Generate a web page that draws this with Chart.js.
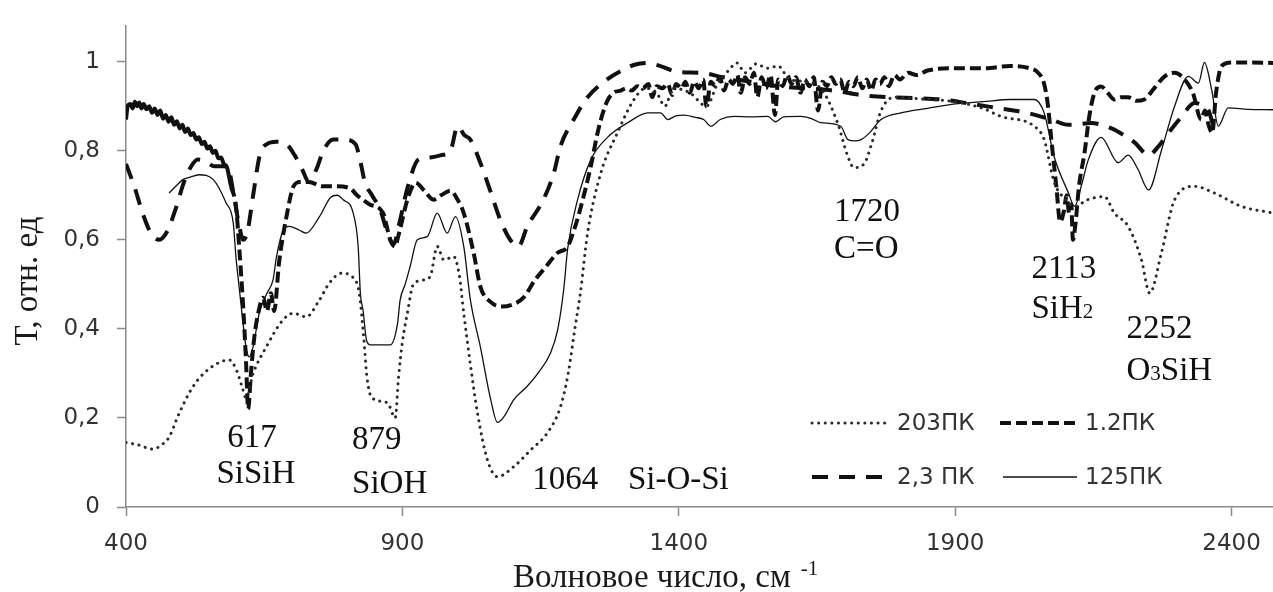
<!DOCTYPE html>
<html>
<head>
<meta charset="utf-8">
<script src="https://cdn.jsdelivr.net/npm/chart.js@4.4.1/dist/chart.umd.min.js"></script>
<style>
  html, body { margin: 0; padding: 0; background: #fff; }
  #wrap { width: 1273px; height: 592px; }
</style>
</head>
<body>
<div id="wrap"><canvas id="spectrum" width="1273" height="592"></canvas></div>
<script>
// wavenumber (cm-1), transmittance
const series203 = [
  [400,0.145],[420,0.14],[449,0.13],[465,0.14],[478,0.157],[496,0.21],[521,0.27],[550,0.31],[587,0.33],[599,0.31],
  [610,0.27],[617,0.245],[630,0.30],[654,0.36],[684,0.42],[703,0.435],[726,0.427],[750,0.465],[768,0.503],[790,0.525],
  [811,0.515],[822,0.48],[830,0.38],[836,0.29],[845,0.245],[873,0.234],[887,0.2],[893,0.29],[900,0.37],[909,0.435],
  [920,0.5],[940,0.51],[951,0.52],[963,0.585],[975,0.555],[993,0.562],[1003,0.52],[1011,0.435],[1023,0.32],[1036,0.21],
  [1054,0.105],[1072,0.068],[1101,0.09],[1132,0.128],[1162,0.166],[1186,0.225],[1200,0.3],[1212,0.4],[1222,0.48],[1235,0.615],
  [1259,0.75],[1289,0.84],[1319,0.915],[1340,0.94],[1360,0.93],[1375,0.9],[1390,0.94],[1420,0.93],[1450,0.9],[1470,0.95],
  [1490,0.98],[1505,0.997],[1520,0.975],[1540,0.995],[1560,0.985],[1580,0.99],[1600,0.96],[1630,0.955],[1660,0.935],[1688,0.86],
  [1705,0.79],[1717,0.762],[1735,0.77],[1750,0.82],[1766,0.89],[1790,0.92],[1850,0.915],[1900,0.91],[1950,0.895],[1983,0.877],
  [2043,0.855],[2061,0.825],[2079,0.73],[2100,0.69],[2116,0.675],[2140,0.69],[2170,0.697],[2188,0.66],[2213,0.63],[2237,0.555],
  [2252,0.48],[2273,0.57],[2297,0.69],[2333,0.72],[2369,0.705],[2418,0.675],[2475,0.66]
];

const series12 = [
  [400,0.87],[403,0.9],[408,0.905],[412,0.895],[416,0.91],[420,0.9],[424,0.908],[428,0.895],[432,0.905],[437,0.893],
  [442,0.9],[447,0.885],[452,0.895],[457,0.88],[462,0.89],[467,0.872],[472,0.88],[477,0.865],[482,0.875],[487,0.858],
  [492,0.866],[497,0.85],[502,0.858],[507,0.842],[512,0.85],[517,0.835],[522,0.84],[527,0.825],[532,0.83],[537,0.815],
  [542,0.82],[547,0.805],[552,0.81],[557,0.795],[562,0.8],[567,0.783],[572,0.785],[577,0.77],[582,0.765],[590,0.72],
  [599,0.675],[605,0.58],[612,0.45],[617,0.33],[621,0.22],[626,0.3],[632,0.38],[640,0.44],[648,0.47],[655,0.44],
  [662,0.48],[668,0.44],[677,0.55],[690,0.65],[703,0.72],[715,0.73],[731,0.73],[755,0.72],[780,0.72],[806,0.715],
  [818,0.70],[840,0.68],[865,0.66],[878,0.6],[886,0.585],[895,0.62],[909,0.69],[924,0.728],[940,0.71],[956,0.69],
  [970,0.70],[987,0.71],[1000,0.69],[1011,0.66],[1029,0.57],[1041,0.495],[1060,0.46],[1080,0.45],[1100,0.455],[1119,0.47],
  [1140,0.51],[1160,0.54],[1180,0.57],[1199,0.585],[1210,0.62],[1222,0.67],[1240,0.76],[1255,0.85],[1270,0.91],[1282,0.93],
  [1295,0.935],[1305,0.94],[1315,0.935],[1325,0.945],[1335,0.94],[1345,0.95],[1352,0.92],[1360,0.945],[1370,0.94],[1380,0.95],
  [1388,0.925],[1395,0.95],[1405,0.94],[1412,0.955],[1420,0.93],[1428,0.955],[1436,0.94],[1444,0.96],[1450,0.9],[1458,0.955],
  [1466,0.945],[1474,0.965],[1482,0.935],[1490,0.96],[1498,0.95],[1506,0.97],[1512,0.93],[1520,0.965],[1528,0.95],[1536,0.975],
  [1542,0.92],[1550,0.965],[1558,0.94],[1566,0.97],[1574,0.88],[1580,0.96],[1588,0.945],[1596,0.97],[1604,0.95],[1612,0.965],
  [1620,0.93],[1628,0.96],[1636,0.945],[1644,0.965],[1652,0.89],[1660,0.955],[1668,0.945],[1676,0.965],[1684,0.95],[1692,0.96],
  [1700,0.93],[1708,0.955],[1716,0.945],[1724,0.965],[1732,0.94],[1740,0.96],[1748,0.935],[1756,0.96],[1764,0.95],[1772,0.965],
  [1780,0.945],[1790,0.97],[1800,0.96],[1815,0.975],[1830,0.97],[1850,0.98],[1900,0.985],[1950,0.985],[2000,0.99],[2035,0.985],
  [2050,0.975],[2061,0.95],[2068,0.9],[2074,0.825],[2083,0.72],[2090,0.64],[2096,0.66],[2102,0.7],[2106,0.66],[2110,0.68],
  [2113,0.6],[2118,0.64],[2124,0.72],[2134,0.795],[2143,0.88],[2152,0.93],[2164,0.944],[2176,0.93],[2188,0.915],[2200,0.92],
  [2213,0.92],[2228,0.912],[2242,0.915],[2260,0.94],[2279,0.967],[2297,0.975],[2315,0.96],[2330,0.93],[2345,0.87],[2352,0.89],
  [2358,0.86],[2365,0.84],[2372,0.93],[2382,0.99],[2400,0.998],[2430,0.998],[2475,0.997]
];

const series23 = [
  [400,0.77],[415,0.72],[430,0.66],[445,0.615],[460,0.60],[475,0.62],[490,0.67],[505,0.73],[518,0.765],[530,0.78],
  [545,0.775],[560,0.765],[575,0.765],[585,0.76],[595,0.7],[605,0.63],[612,0.6],[620,0.62],[630,0.7],[642,0.79],
  [655,0.815],[672,0.82],[690,0.815],[705,0.79],[718,0.76],[731,0.73],[745,0.76],[757,0.8],[775,0.825],[795,0.825],
  [815,0.815],[825,0.77],[832,0.73],[845,0.70],[860,0.667],[872,0.62],[884,0.59],[895,0.64],[910,0.72],[929,0.78],
  [950,0.785],[970,0.79],[987,0.80],[1000,0.855],[1012,0.835],[1023,0.825],[1041,0.773],[1059,0.71],[1077,0.645],[1095,0.6],
  [1110,0.585],[1126,0.63],[1155,0.69],[1174,0.75],[1186,0.81],[1210,0.87],[1235,0.92],[1265,0.955],[1300,0.982],[1320,0.993],
  [1343,0.997],[1367,0.99],[1398,0.977],[1440,0.975],[1480,0.965],[1530,0.955],[1580,0.945],[1630,0.94],[1680,0.935],[1730,0.925],
  [1780,0.92],[1830,0.918],[1875,0.915],[1930,0.905],[1980,0.895],[2030,0.885],[2060,0.875],[2074,0.87],[2105,0.858],[2146,0.862],
  [2183,0.85],[2205,0.835],[2225,0.818],[2250,0.79],[2268,0.81],[2286,0.84],[2310,0.877],[2333,0.907],[2350,0.9],[2358,0.892],
  [2369,0.855],[2380,0.87]
];

const series125 = [
  [478,0.705],[490,0.72],[503,0.735],[515,0.74],[532,0.746],[558,0.735],[581,0.683],[594,0.638],[599,0.56],[605,0.49],
  [612,0.41],[617,0.36],[623,0.337],[630,0.36],[641,0.435],[655,0.48],[666,0.51],[672,0.56],[684,0.62],[695,0.63],
  [713,0.622],[726,0.615],[750,0.652],[770,0.695],[782,0.70],[793,0.69],[811,0.66],[820,0.585],[824,0.48],[829,0.44],
  [835,0.375],[842,0.364],[878,0.364],[891,0.41],[896,0.465],[905,0.5],[914,0.54],[927,0.6],[945,0.607],[963,0.66],
  [981,0.615],[996,0.652],[1011,0.585],[1023,0.465],[1041,0.36],[1060,0.24],[1072,0.19],[1085,0.205],[1101,0.24],[1125,0.27],
  [1145,0.30],[1168,0.346],[1181,0.398],[1192,0.49],[1199,0.58],[1217,0.69],[1241,0.78],[1271,0.83],[1308,0.863],[1344,0.885],
  [1367,0.885],[1380,0.87],[1395,0.878],[1409,0.88],[1430,0.875],[1445,0.87],[1458,0.855],[1475,0.87],[1500,0.877],[1530,0.876],
  [1561,0.877],[1575,0.865],[1590,0.876],[1621,0.877],[1640,0.872],[1657,0.863],[1693,0.855],[1706,0.825],[1718,0.822],[1730,0.825],
  [1745,0.84],[1766,0.87],[1802,0.885],[1850,0.895],[1900,0.905],[1950,0.91],[2000,0.915],[2043,0.915],[2061,0.885],[2079,0.787],
  [2105,0.705],[2116,0.675],[2128,0.72],[2141,0.78],[2164,0.83],[2195,0.773],[2213,0.79],[2230,0.76],[2250,0.712],[2273,0.80],
  [2297,0.90],[2322,0.967],[2340,0.952],[2351,0.998],[2364,0.937],[2376,0.855],[2394,0.896],[2430,0.893],[2475,0.892]
];

const xTicks = [400, 900, 1400, 1900, 2400];
const yTicks = [0, 0.2, 0.4, 0.6, 0.8, 1];
const yTickLabels = ['0', '0,2', '0,4', '0,6', '0,8', '1'];

const seriesNames = ['203ПК', '1.2ПК', '2,3 ПК', '125ПК'];

// band assignments written on the plot (x in cm-1, y in T units)
const peakNotes = [
  { x: 628, y: 0.135, align: 'center', parts: [['617']] },
  { x: 635, y: 0.054, align: 'center', parts: [['SiSiH']] },
  { x: 809, y: 0.130, align: 'left', parts: [['879']] },
  { x: 809, y: 0.031, align: 'left', parts: [['SiOH']] },
  { x: 1135, y: 0.040, align: 'left', parts: [['1064']] },
  { x: 1308, y: 0.040, align: 'left', parts: [['Si-O-Si']] },
  { x: 1681, y: 0.643, align: 'left', parts: [['1720']] },
  { x: 1681, y: 0.560, align: 'left', parts: [['C=O']] },
  { x: 2038, y: 0.515, align: 'left', parts: [['2113']] },
  { x: 2038, y: 0.425, align: 'left', parts: [['SiH'], ['2', 'sub']] },
  { x: 2210, y: 0.380, align: 'left', parts: [['2252']] },
  { x: 2210, y: 0.285, align: 'left', parts: [['O'], ['3', 'sub'], ['SiH']] }
];

const serif = '"Liberation Serif", "Times New Roman", serif';
const sans = '"DejaVu Sans", Verdana, sans-serif';

function toPoints(arr) {
  return arr.map(p => ({ x: p[0], y: p[1] }));
}

function drawRich(ctx, parts, x, y, align) {
  const big = '33px ' + serif, small = '21px ' + serif;
  let w = 0;
  parts.forEach(p => { ctx.font = p[1] ? small : big; w += ctx.measureText(p[0]).width; });
  let cx = align === 'center' ? x - w / 2 : x;
  ctx.textAlign = 'left';
  ctx.textBaseline = 'alphabetic';
  parts.forEach(p => {
    ctx.font = p[1] ? small : big;
    ctx.fillText(p[0], cx, y);
    cx += ctx.measureText(p[0]).width;
  });
}

const textPlugin = {
  id: 'textLayer',
  afterDraw(chart) {
    const { ctx, scales: { x, y } } = chart;
    ctx.save();
    ctx.fillStyle = '#111';
    peakNotes.forEach(n => {
      drawRich(ctx, n.parts, x.getPixelForValue(n.x), y.getPixelForValue(n.y), n.align);
    });

    // legend, 2 x 2 inside the plot
    const slots = [[812, 887, 897, 423], [1000, 1078, 1085, 423], [812, 890, 897, 477], [1003, 1077, 1085, 477]];
    chart.data.datasets.forEach((ds, i) => {
      const s = slots[i];
      ctx.save();
      ctx.strokeStyle = ds.borderColor;
      ctx.lineWidth = ds.borderWidth;
      ctx.lineCap = ds.borderCapStyle || 'butt';
      ctx.setLineDash(ds.borderDash || []);
      ctx.beginPath();
      ctx.moveTo(s[0], s[3]);
      ctx.lineTo(s[1], s[3]);
      ctx.stroke();
      ctx.restore();
      ctx.font = '23px ' + sans;
      ctx.fillStyle = '#333';
      ctx.textAlign = 'left';
      ctx.textBaseline = 'middle';
      ctx.fillText(ds.label, s[2], s[3] + 1);
    });

    // axis titles
    ctx.fillStyle = '#1a1a1a';
    ctx.textBaseline = 'alphabetic';
    ctx.textAlign = 'left';
    ctx.font = '33px ' + serif;
    const xt = 'Волновое число, см';
    ctx.fillText(xt, 513, 587);
    const xtw = ctx.measureText(xt).width;
    ctx.font = '21px ' + serif;
    ctx.fillText('-1', 513 + xtw + 10, 575);

    ctx.save();
    ctx.translate(37, 281);
    ctx.rotate(-Math.PI / 2);
    ctx.font = '33px ' + serif;
    ctx.textAlign = 'center';
    ctx.fillText('Т, отн. ед', 0, 0);
    ctx.restore();
    ctx.restore();
  }
};

const ctx = document.getElementById('spectrum').getContext('2d');
new Chart(ctx, {
  type: 'line',
  data: {
    datasets: [
      {
        label: seriesNames[0], data: toPoints(series203),
        borderColor: '#2a2a2a', borderWidth: 3, borderDash: [0.1, 6.5], borderCapStyle: 'round'
      },
      {
        label: seriesNames[1], data: toPoints(series12),
        borderColor: '#111', borderWidth: 4, borderDash: [11, 5],
        // the noisy low-wavenumber stretch reads as a solid heavy band
        segment: { borderDash: c => (c.p0.parsed.x < 586 ? [] : undefined) }
      },
      {
        label: seriesNames[2], data: toPoints(series23),
        borderColor: '#111', borderWidth: 4, borderDash: [16, 11]
      },
      {
        label: seriesNames[3], data: toPoints(series125),
        borderColor: '#111', borderWidth: 1.3
      }
    ]
  },
  options: {
    responsive: false,
    animation: false,
    layout: { padding: { top: 26, right: 0, left: 0, bottom: 0 } },
    elements: {
      point: { radius: 0 },
      line: { cubicInterpolationMode: 'monotone', fill: false }
    },
    plugins: {
      legend: { display: false },
      tooltip: { enabled: false }
    },
    scales: {
      x: {
        type: 'linear',
        min: 400,
        max: 2475,
        afterBuildTicks: s => { s.ticks = xTicks.map(v => ({ value: v })); },
        afterFit: s => { s.height = 85; s.paddingLeft = 0; s.paddingRight = 0; },
        ticks: {
          font: { family: sans, size: 23 },
          color: '#333',
          padding: 14,
          maxRotation: 0,
          callback: v => String(v)
        },
        grid: { drawOnChartArea: false, drawTicks: true, tickLength: 9, color: '#8a8a8a', tickWidth: 1.5 },
        border: { display: true, color: '#8a8a8a', width: 1.5 }
      },
      y: {
        min: 0,
        max: 1.08,
        afterBuildTicks: s => { s.ticks = yTicks.map(v => ({ value: v })); },
        afterFit: s => { s.width = 126; s.paddingTop = 0; s.paddingBottom = 0; },
        ticks: {
          font: { family: sans, size: 23 },
          color: '#333',
          padding: 17,
          callback: (v, i) => yTickLabels[i]
        },
        grid: { drawOnChartArea: false, drawTicks: true, tickLength: 9, color: '#8a8a8a', tickWidth: 1.5 },
        border: { display: true, color: '#8a8a8a', width: 1.5 }
      }
    }
  },
  plugins: [textPlugin]
});
</script>
</body>
</html>
